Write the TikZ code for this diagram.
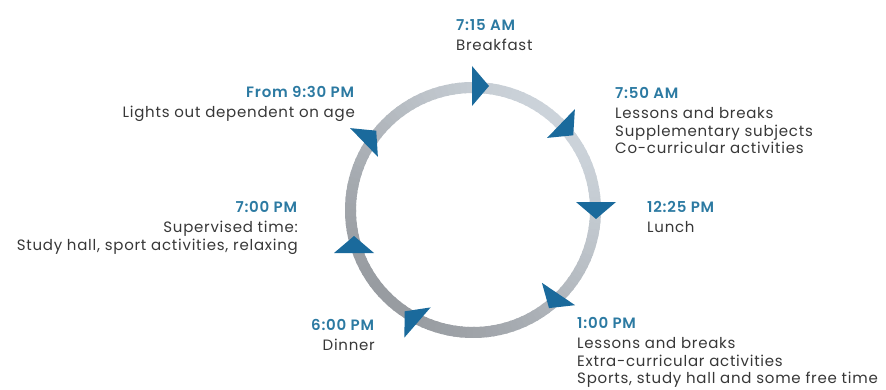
\documentclass[tikz,border=0pt]{standalone}
\usepackage{fontspec}
\IfFontExistsTF{Poppins SemiBold}
  {\setmainfont{Poppins}[LetterSpace=5, BoldFont={Poppins SemiBold}, BoldFeatures={LetterSpace=5}]}
  {\setmainfont{Poppins}[LetterSpace=5]}
\definecolor{ringL}{RGB}{204,211,218}
\definecolor{ringD}{RGB}{152,156,161}
\definecolor{arrowc}{RGB}{26,106,156}
\definecolor{headc}{RGB}{44,122,162}
\definecolor{bodyc}{RGB}{55,55,55}
\tikzset{
  lbl/.style={inner sep=0pt, font=\fontsize{15}{17.5}\selectfont, text=bodyc},
  lblL/.style={lbl, anchor=north west, align=left},
  lblR/.style={lbl, anchor=north east, align=right},
  marker/.style={fill=arrowc}
}
\newcommand{\hd}[1]{\textcolor{headc}{\textbf{#1}}\\[2.5pt]}
\begin{document}
\begin{tikzpicture}[x=1pt,y=1pt]
\useasboundingbox (0,0) rectangle (886,389);
\coordinate (c) at (473,179);
% ring
\foreach \a [evaluate=\a as \p using {50+50*cos(\a-45)}] in {0,3,...,357}{
  \draw[line width=11pt, color=ringL!\p!ringD] (c) ++(\a:122.5) arc[start angle=\a, end angle=\a+4, radius=122.5];
}
% markers (back-edge midpoint / orientation)
\coordinate (m715) at (472,303);
\coordinate (m750) at (561,265.5);
\coordinate (m1225) at (596,187);
\coordinate (m100) at (558.5,95);
\coordinate (m600) at (417.5,66.5);
\coordinate (m700) at (354,136);
\coordinate (m930) at (364,246.5);
\foreach \m/\r in {m715/90, m750/46, m1225/0, m100/-34, m600/-131, m700/180, m930/134}{
  \fill[marker, shift={(\m)}, rotate=\r] (-20,0) -- (20,0) -- (0,-17) -- cycle;
}
% labels
\node[lblL] (t715) at (456,369.5) {\hd{7:15 AM}Breakfast};
\node[lblL] (t750) at (615,301.5) {\hd{7:50 AM}Lessons and breaks\\Supplementary subjects\\Co-curricular activities};
\node[lblL] (t1225) at (647,187.5) {\hd{12:25 PM}Lunch};
\node[lblL] (t100) at (577,71.5) {\hd{1:00 PM}Lessons and breaks\\Extra-curricular activities\\Sports, study hall and some free time};
\node[lblR] (t600) at (375,69.5) {\hd{6:00 PM}Dinner};
\node[lblR] (t700) at (298,187.5) {\hd{7:00 PM}Supervised time:\\Study hall, sport activities, relaxing};
\node[lblR] (t930) at (355,302.5) {\hd{From 9:30 PM}Lights out dependent on age};
\end{tikzpicture}
\end{document}
